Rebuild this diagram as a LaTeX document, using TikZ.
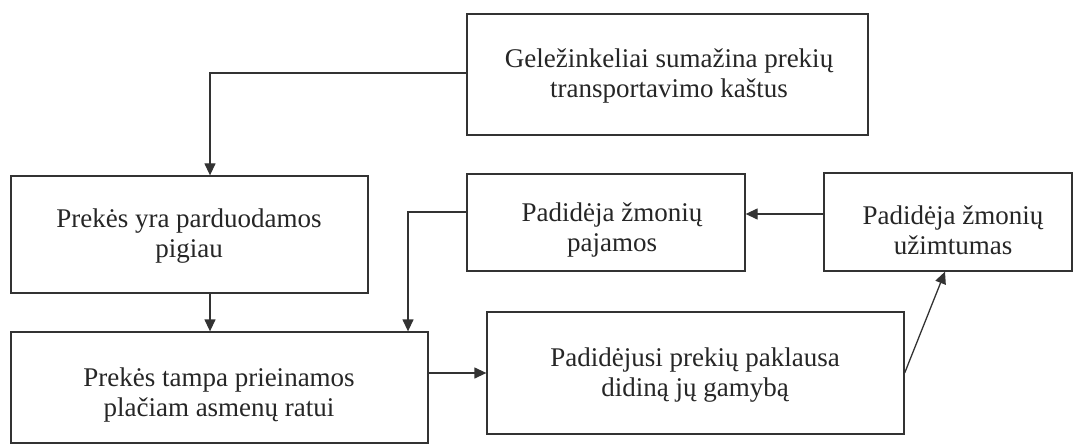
\documentclass[tikz,border=0pt]{standalone}
\usepackage{fontspec}
\setmainfont{Liberation Serif}
\usetikzlibrary{arrows.meta}
\begin{document}
\begin{tikzpicture}[x=1pt,y=-1pt,
  box/.style={draw=black!80, line width=1.3pt, inner sep=0pt, fill=white},
  txt/.style={align=center, inner sep=0pt, font=\fontsize{27}{30}\selectfont, text=black!85},
  arr/.style={draw=black!80, line width=1.3pt, -{Triangle[length=12pt,width=11pt]}}]
\useasboundingbox (0,0) rectangle (1075,446);
\node[box, minimum width=401pt, minimum height=121pt] (b1) at (667.5,74.5) {};
\node[box, minimum width=357pt, minimum height=117pt] (b2) at (189.5,234.5) {};
\node[box, minimum width=417pt, minimum height=111pt] (b3) at (219.5,387.5) {};
\node[box, minimum width=278pt, minimum height=97pt] (b4) at (606,222.5) {};
\node[box, minimum width=248pt, minimum height=98pt] (b5) at (948,222) {};
\node[box, minimum width=417pt, minimum height=122pt] (b6) at (695.5,373) {};
\node[txt] (t1) at (669,76) {Geležinkeliai sumažina prekių\\transportavimo kaštus};
\node[txt] (t2) at (189,236) {Prekės yra parduodamos\\pigiau};
\node[txt] (t3) at (219,395) {Prekės tampa prieinamos\\plačiam asmenų ratui};
\node[txt] (t4) at (612,230) {Padidėja žmonių\\pajamos};
\node[txt] (t5) at (953,230) {Padidėja žmonių\\užimtumas};
\node[txt] (t6) at (695,375) {Padidėjusi prekių paklausa\\didiną jų gamybą};
\draw[arr] ([yshift=1.5pt]b1.west) -| ([xshift=20.5pt]b2.north);
\draw[arr] ([xshift=20.5pt]b2.south) -- ([xshift=20.5pt]b2.south |- b3.north);
\draw[arr] ([yshift=10.5pt]b4.west) -| ([xshift=188.5pt]b3.north);
\draw[arr] (b6.west -| b3.east) -- (b6.west);
\draw[arr] (b6.east) -- ([xshift=-3pt]b5.south);
\draw[arr] ([yshift=8pt]b5.west) -- ([yshift=8pt]b5.west -| b4.east);
\end{tikzpicture}
\end{document}
